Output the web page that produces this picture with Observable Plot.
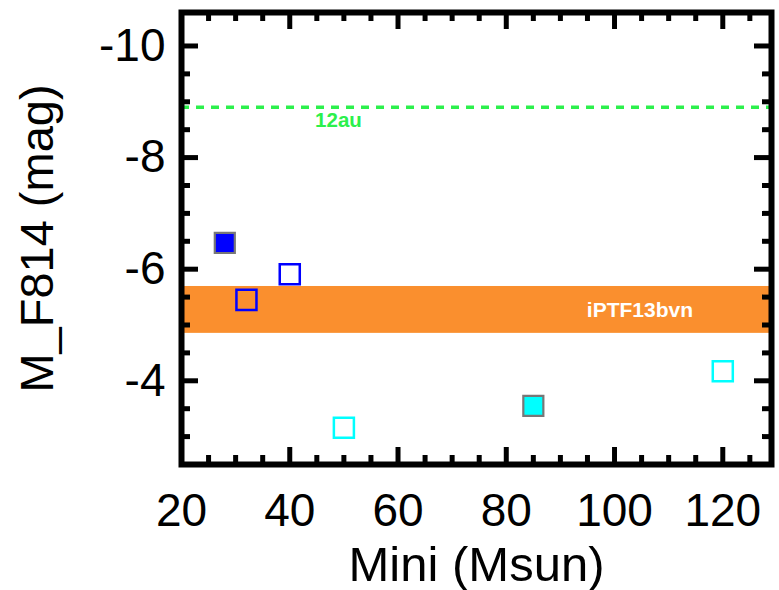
<!DOCTYPE html>
<html>
<head>
<meta charset="utf-8">
<script src="https://cdn.jsdelivr.net/npm/d3@7"></script>
<script src="https://cdn.jsdelivr.net/npm/@observablehq/plot@0.6"></script>
<style>
  html, body { margin: 0; padding: 0; background: #fff; }
  #chart svg { display: block; }
</style>
</head>
<body>
<div id="chart"></div>
<script>
// ---- data ----
const mini = [28, 40, 32, 50, 85, 120];                 // Mini (Msun)
const mag = [-6.47, -5.91, -5.45, -3.16, -3.55, -4.17]; // M_F814 (mag)
const group = ["blue", "blue", "blue", "cyan", "cyan", "cyan"];
const filled = [true, false, false, false, true, false];

const bandMag = [-5.69, -4.85];      // iPTF13bvn range
const bandLabel = "iPTF13bvn";
const bandLabelMini = 104.7;

const lineMag = -8.9;                // 12au level
const lineLabel = "12au";
const lineLabelMini = 49;
const lineLabelMag = -8.66;

const xMajor = [20, 40, 60, 80, 100, 120];
const xMinor = [25, 30, 35, 45, 50, 55, 65, 70, 75, 85, 90, 95, 105, 110, 115, 125];
const yMajor = [-10, -8, -6, -4];
const yMinor = [-9.5, -9, -8.5, -7.5, -7, -6.5, -5.5, -5, -4.5, -3.5, -3];

const xTitle = "Mini (Msun)";
const yTitle = "M_F814 (mag)";

// ---- layout ----
const W = 779, H = 590;
const mL = 181, mR = 8, mT = 12, mB = 126;
const frameW = W - mL - mR, frameH = H - mT - mB;
const majorLen = 17, minorLen = 9;
const font = "'Liberation Sans', Arial, Helvetica, sans-serif";

const idx = d3.range(mini.length);
const tickStyle = {stroke: "black", strokeWidth: 5, strokeLinecap: "butt"};

const chart = Plot.plot({
  width: W,
  height: H,
  marginLeft: mL, marginRight: mR, marginTop: mT, marginBottom: mB,
  style: {fontFamily: font, background: "white", color: "black"},
  x: {domain: [20, 129]},
  y: {domain: [-2.5, -10.6]},
  color: {domain: ["blue", "cyan"], range: ["#2a2aff", "#00ffff"]},
  marks: [
    // orange band
    Plot.rect([bandMag], {y1: d => d[0], y2: d => d[1], fill: "#fa8f2e"}),
    Plot.text([bandLabel], {text: d => d, x: () => bandLabelMini, y: () => (bandMag[0] + bandMag[1]) / 2,
      fill: "white", fontWeight: "bold", fontSize: 21, lineAnchor: "middle"}),
    // dashed 12au line
    Plot.ruleY([lineMag], {y: d => d, stroke: "#2cf04c", strokeWidth: 3.5, strokeDasharray: "8,7"}),
    Plot.text([lineLabel], {text: d => d, x: () => lineLabelMini, y: () => lineLabelMag,
      fill: "#2cf04c", fontWeight: "bold", fontSize: 20.5, lineAnchor: "middle"}),
    // open squares
    Plot.dot(idx.filter(i => !filled[i]), {x: i => mini[i], y: i => mag[i], symbol: "square", r: 11.3,
      fill: "none", stroke: i => group[i], strokeWidth: 2.5}),
    // filled squares
    Plot.dot(idx.filter(i => filled[i]), {x: i => mini[i], y: i => mag[i], symbol: "square", r: 11.3,
      fill: i => group[i], stroke: "#777", strokeWidth: 2.2}),
    // ticks: bottom / top
    Plot.tickX(xMajor, {x: d => d, insetTop: frameH - majorLen, ...tickStyle}),
    Plot.tickX(xMinor, {x: d => d, insetTop: frameH - minorLen, ...tickStyle}),
    Plot.tickX(xMajor, {x: d => d, insetBottom: frameH - majorLen, ...tickStyle}),
    Plot.tickX(xMinor, {x: d => d, insetBottom: frameH - minorLen, ...tickStyle}),
    // ticks: left / right
    Plot.tickY(yMajor, {y: d => d, insetRight: frameW - majorLen, ...tickStyle}),
    Plot.tickY(yMinor, {y: d => d, insetRight: frameW - minorLen, ...tickStyle}),
    Plot.tickY(yMajor, {y: d => d, insetLeft: frameW - majorLen, ...tickStyle}),
    Plot.tickY(yMinor, {y: d => d, insetLeft: frameW - minorLen, ...tickStyle}),
    // frame
    Plot.frame({stroke: "black", strokeWidth: 6}),
    // tick labels
    Plot.axisX(xMajor, {anchor: "bottom", tickSize: 0, tickPadding: 29, fontSize: 46, fill: "black",
      label: null, tickFormat: d => String(d)}),
    Plot.axisY(yMajor, {anchor: "left", tickSize: 0, tickPadding: 16, fontSize: 46, fill: "black",
      label: null, tickFormat: d => String(d)}),
    // axis titles
    Plot.text([xTitle], {text: d => d, frameAnchor: "bottom", textAnchor: "middle", lineAnchor: "bottom", dy: 116,
      fontSize: 49, fill: "black"}),
    Plot.text([yTitle], {text: d => d, frameAnchor: "left", textAnchor: "middle", rotate: -90, dx: -144,
      lineAnchor: "middle", fontSize: 47, fill: "black"})
  ]
});
document.getElementById("chart").appendChild(chart);
</script>
</body>
</html>
